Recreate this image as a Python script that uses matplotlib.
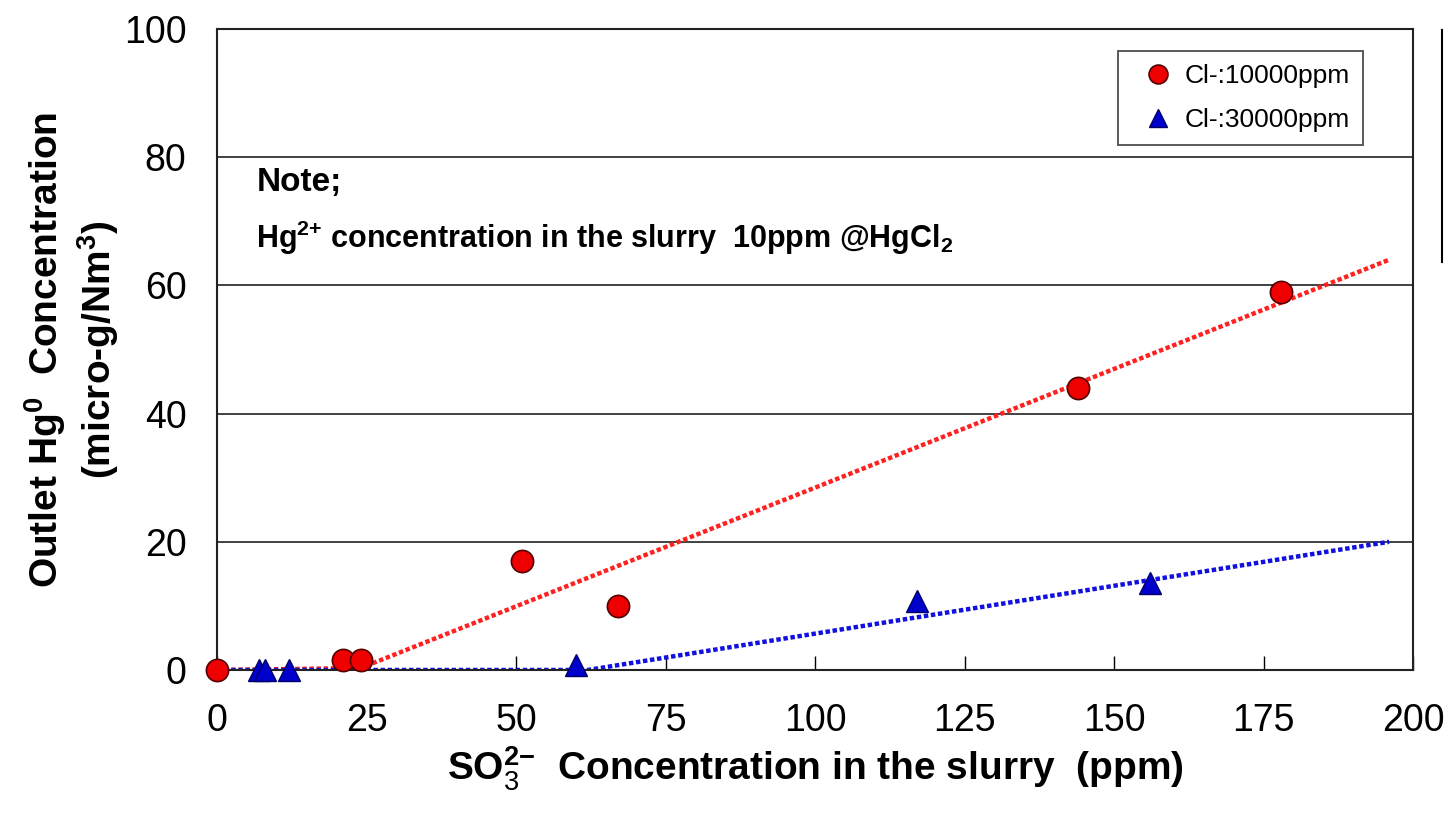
import matplotlib
matplotlib.use("Agg")
import matplotlib.pyplot as plt
from matplotlib.lines import Line2D

plt.rcParams['font.family'] = ['Liberation Sans', 'DejaVu Sans']
plt.rcParams['mathtext.fontset'] = 'custom'
plt.rcParams['mathtext.rm'] = 'Liberation Sans'
plt.rcParams['mathtext.bf'] = 'Liberation Sans:bold'

# Data
cl10k_x = [0, 21, 24, 51, 67, 144, 178]
cl10k_y = [0, 1.5, 1.5, 17, 10, 44, 59]
cl30k_x = [7, 8, 12, 60, 117, 156]
cl30k_y = [0, 0, 0, 0.8, 10.8, 13.6]
fit10k_x = [0, 24, 196]
fit10k_y = [0, 0.3, 64]
fit30k_x = [0, 62, 196]
fit30k_y = [0, 0, 20]
x_ticks = [0, 25, 50, 75, 100, 125, 150, 175, 200]
y_ticks = [0, 20, 40, 60, 80, 100]

fig = plt.figure(figsize=(14.5, 8.19), dpi=100)
ax = fig.add_axes([217/1450, 1-670/819, (1413-217)/1450, (670-29)/819])

ax.plot(fit10k_x, fit10k_y, color='#ff2020', lw=3.2, ls=(0, (1, 0.6)), zorder=2)
ax.plot(fit30k_x, fit30k_y, color='#1010e0', lw=3.2, ls=(0, (1, 0.6)), zorder=2)
ax.plot(cl10k_x, cl10k_y, 'o', ms=16, mfc='#ee0000', mec='#550000', mew=1.2, ls='none',
        label='Cl-:10000ppm', zorder=3, clip_on=False)
ax.plot(cl30k_x, cl30k_y, '^', ms=16, mfc='#0000cc', mec='#000066', mew=1.0, ls='none',
        label='Cl-:30000ppm', zorder=3, clip_on=False)

ax.set_xlim(0, 200)
ax.set_ylim(0, 100)
ax.set_xticks(x_ticks)
ax.set_yticks(y_ticks)
ax.yaxis.grid(True, color='#333333', lw=1.3)
ax.set_axisbelow(True)
for s in ax.spines.values():
    s.set_color('#222222')
    s.set_linewidth(1.5)
ax.tick_params(axis='x', direction='in', length=10, width=1, pad=24, labelsize=27)
ax.tick_params(axis='y', direction='in', length=0, pad=22, labelsize=27)

ax.set_xlabel('SO$_3^{\\mathbf{2{-}}}$  Concentration in the slurry  (ppm)', fontsize=28,
              fontweight='bold', labelpad=4)
ax.set_ylabel('Outlet Hg$^{\\mathbf{0}}$  Concentration\n(micro-g/Nm$^{\\mathbf{3}}$)', fontsize=28,
              fontweight='bold', labelpad=2, linespacing=1.2)

ax.text(0.033, 0.76, 'Note;', transform=ax.transAxes, fontsize=24, fontweight='bold',
        va='center', ha='left')
ax.text(0.033, 0.674, 'Hg$^{\\mathbf{2{+}}}$ concentration in the slurry  10ppm @HgCl$_\\mathbf{2}$',
        transform=ax.transAxes, fontsize=22, fontweight='bold', va='center', ha='left')

leg = ax.legend(loc='upper right', bbox_to_anchor=(0.958, 0.966), borderaxespad=0,
                fontsize=19, frameon=True, fancybox=False, edgecolor='#222222',
                handletextpad=0.0, borderpad=0.5, labelspacing=0.75, handlelength=2.0,
                markerscale=0.85)
leg.get_frame().set_linewidth(1.3)

fig.add_artist(Line2D([1442/1450, 1442/1450], [1-30/819, 1-262/819], color='black', lw=1.5))

fig.savefig('out.png', dpi=100, facecolor='white')
